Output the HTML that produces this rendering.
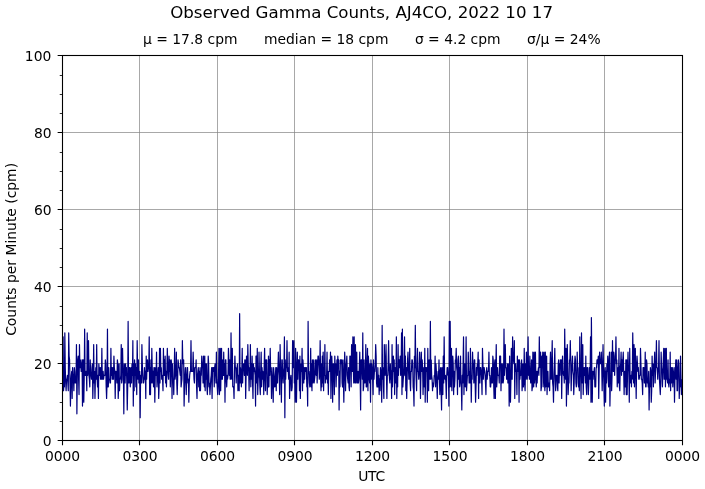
<!DOCTYPE html>
<html><head><meta charset="utf-8"><title>Observed Gamma Counts</title>
<style>html,body{margin:0;padding:0;background:#fff}svg{display:block}</style></head>
<body>
<svg width="705" height="489" viewBox="0 0 705 489">
<rect width="705" height="489" fill="#fff"/>
<path d="M139.50 55.5V440.5M217.50 55.5V440.5M294.50 55.5V440.5M372.50 55.5V440.5M449.50 55.5V440.5M527.50 55.5V440.5M604.50 55.5V440.5M62.5 363.50H682.5M62.5 286.50H682.5M62.5 209.50H682.5M62.5 132.50H682.5" stroke="#808080" stroke-width="0.69" fill="none"/>
<clipPath id="c"><rect x="62.5" y="55.5" width="620.0" height="385.0"/></clipPath>
<polyline clip-path="url(#c)" points="62.25,367.60 62.68,390.70 63.11,336.80 63.54,390.70 63.97,383.00 64.40,386.85 64.83,332.95 65.26,367.60 65.69,383.00 66.12,390.70 66.56,379.15 66.99,379.15 67.42,375.30 67.85,383.00 68.28,390.70 68.71,332.95 69.14,356.05 69.57,359.90 70.00,383.00 70.43,406.10 70.86,383.00 71.29,375.30 71.72,371.45 72.15,398.40 72.58,367.60 73.01,375.30 73.44,379.15 73.88,390.70 74.31,367.60 74.74,371.45 75.17,383.00 75.60,379.15 76.03,383.00 76.46,344.50 76.89,413.80 77.32,375.30 77.75,359.90 78.18,356.05 78.61,379.15 79.04,394.55 79.47,344.50 79.90,367.60 80.33,359.90 80.76,363.75 81.19,371.45 81.62,367.60 82.06,359.90 82.49,406.10 82.92,359.90 83.35,359.90 83.78,402.25 84.21,379.15 84.64,329.10 85.07,375.30 85.50,375.30 85.93,371.45 86.36,371.45 86.79,390.70 87.22,332.95 87.65,375.30 88.08,359.90 88.51,340.65 88.94,375.30 89.38,379.15 89.81,386.85 90.24,359.90 90.67,375.30 91.10,375.30 91.53,379.15 91.96,367.60 92.39,363.75 92.82,398.40 93.25,379.15 93.68,344.50 94.11,383.00 94.54,371.45 94.97,398.40 95.40,379.15 95.83,367.60 96.26,379.15 96.69,344.50 97.12,379.15 97.56,386.85 97.99,375.30 98.42,398.40 98.85,363.75 99.28,371.45 99.71,375.30 100.14,367.60 100.57,379.15 101.00,367.60 101.43,379.15 101.86,348.35 102.29,379.15 102.72,379.15 103.15,371.45 103.58,379.15 104.01,375.30 104.44,375.30 104.88,375.30 105.31,359.90 105.74,363.75 106.17,386.85 106.60,398.40 107.03,383.00 107.46,329.10 107.89,386.85 108.32,386.85 108.75,367.60 109.18,379.15 109.61,379.15 110.04,383.00 110.47,383.00 110.90,348.35 111.33,375.30 111.76,367.60 112.19,379.15 112.62,367.60 113.06,379.15 113.49,379.15 113.92,356.05 114.35,367.60 114.78,371.45 115.21,398.40 115.64,371.45 116.07,371.45 116.50,375.30 116.93,383.00 117.36,359.90 117.79,363.75 118.22,398.40 118.65,386.85 119.08,363.75 119.51,390.70 119.94,379.15 120.38,379.15 120.81,375.30 121.24,344.50 121.67,383.00 122.10,379.15 122.53,348.35 122.96,367.60 123.39,371.45 123.82,413.80 124.25,363.75 124.68,375.30 125.11,383.00 125.54,363.75 125.97,375.30 126.40,367.60 126.83,383.00 127.26,409.95 127.69,386.85 128.12,321.40 128.56,383.00 128.99,383.00 129.42,367.60 129.85,367.60 130.28,386.85 130.71,375.30 131.14,367.60 131.57,383.00 132.00,363.75 132.43,375.30 132.86,340.65 133.29,406.10 133.72,363.75 134.15,390.70 134.58,359.90 135.01,375.30 135.44,363.75 135.88,386.85 136.31,367.60 136.74,394.55 137.17,340.65 137.60,367.60 138.03,379.15 138.46,359.90 138.89,383.00 139.32,383.00 139.75,371.45 140.18,417.65 140.61,375.30 141.04,379.15 141.47,383.00 141.90,344.50 142.33,363.75 142.76,375.30 143.19,383.00 143.62,383.00 144.06,379.15 144.49,367.60 144.92,379.15 145.35,371.45 145.78,398.40 146.21,356.05 146.64,379.15 147.07,363.75 147.50,359.90 147.93,371.45 148.36,367.60 148.79,367.60 149.22,336.80 149.65,394.55 150.08,367.60 150.51,394.55 150.94,359.90 151.38,383.00 151.81,348.35 152.24,367.60 152.67,383.00 153.10,371.45 153.53,386.85 153.96,367.60 154.39,367.60 154.82,402.25 155.25,375.30 155.68,367.60 156.11,375.30 156.54,352.20 156.97,386.85 157.40,379.15 157.83,375.30 158.26,367.60 158.69,398.40 159.12,386.85 159.56,348.35 159.99,383.00 160.42,348.35 160.85,371.45 161.28,367.60 161.71,379.15 162.14,375.30 162.57,379.15 163.00,390.70 163.43,348.35 163.86,375.30 164.29,359.90 164.72,375.30 165.15,356.05 165.58,383.00 166.01,371.45 166.44,386.85 166.88,371.45 167.31,348.35 167.74,363.75 168.17,375.30 168.60,379.15 169.03,356.05 169.46,371.45 169.89,359.90 170.32,386.85 170.75,367.60 171.18,359.90 171.61,363.75 172.04,398.40 172.47,363.75 172.90,379.15 173.33,379.15 173.76,394.55 174.19,375.30 174.62,348.35 175.06,379.15 175.49,375.30 175.92,371.45 176.35,352.20 176.78,383.00 177.21,394.55 177.64,379.15 178.07,359.90 178.50,363.75 178.93,367.60 179.36,367.60 179.79,371.45 180.22,375.30 180.65,359.90 181.08,386.85 181.51,383.00 181.94,379.15 182.38,340.65 182.81,363.75 183.24,363.75 183.67,359.90 184.10,406.10 184.53,386.85 184.96,375.30 185.39,367.60 185.82,379.15 186.25,394.55 186.68,379.15 187.11,367.60 187.54,367.60 187.97,383.00 188.40,379.15 188.83,402.25 189.26,383.00 189.69,375.30 190.12,371.45 190.56,371.45 190.99,340.65 191.42,371.45 191.85,371.45 192.28,371.45 192.71,371.45 193.14,352.20 193.57,367.60 194.00,379.15 194.43,383.00 194.86,367.60 195.29,367.60 195.72,367.60 196.15,359.90 196.58,386.85 197.01,398.40 197.44,375.30 197.88,371.45 198.31,367.60 198.74,386.85 199.17,371.45 199.60,390.70 200.03,367.60 200.46,390.70 200.89,375.30 201.32,375.30 201.75,356.05 202.18,363.75 202.61,363.75 203.04,383.00 203.47,356.05 203.90,375.30 204.33,386.85 204.76,356.05 205.19,390.70 205.62,363.75 206.06,379.15 206.49,363.75 206.92,386.85 207.35,394.55 207.78,383.00 208.21,356.05 208.64,363.75 209.07,386.85 209.50,383.00 209.93,394.55 210.36,386.85 210.79,379.15 211.22,375.30 211.65,367.60 212.08,398.40 212.51,367.60 212.94,371.45 213.38,367.60 213.81,367.60 214.24,386.85 214.67,367.60 215.10,363.75 215.53,371.45 215.96,383.00 216.39,352.20 216.82,379.15 217.25,386.85 217.68,394.55 218.11,386.85 218.54,375.30 218.97,348.35 219.40,394.55 219.83,386.85 220.26,348.35 220.69,390.70 221.12,367.60 221.56,348.35 221.99,379.15 222.42,379.15 222.85,359.90 223.28,375.30 223.71,352.20 224.14,375.30 224.57,363.75 225.00,402.25 225.43,359.90 225.86,359.90 226.29,379.15 226.72,386.85 227.15,375.30 227.58,379.15 228.01,375.30 228.44,348.35 228.88,359.90 229.31,375.30 229.74,359.90 230.17,379.15 230.60,379.15 231.03,332.95 231.46,375.30 231.89,379.15 232.32,348.35 232.75,386.85 233.18,386.85 233.61,386.85 234.04,398.40 234.47,371.45 234.90,356.05 235.33,367.60 235.76,367.60 236.19,383.00 236.62,371.45 237.06,367.60 237.49,363.75 237.92,390.70 238.35,375.30 238.78,386.85 239.21,390.70 239.64,313.70 240.07,383.00 240.50,367.60 240.93,375.30 241.36,386.85 241.79,371.45 242.22,348.35 242.65,383.00 243.08,367.60 243.51,363.75 243.94,363.75 244.38,375.30 244.81,359.90 245.24,359.90 245.67,398.40 246.10,375.30 246.53,356.05 246.96,363.75 247.39,375.30 247.82,344.50 248.25,363.75 248.68,371.45 249.11,390.70 249.54,367.60 249.97,379.15 250.40,344.50 250.83,386.85 251.26,363.75 251.69,379.15 252.12,356.05 252.56,383.00 252.99,398.40 253.42,363.75 253.85,371.45 254.28,367.60 254.71,371.45 255.14,375.30 255.57,406.10 256.00,356.05 256.43,356.05 256.86,383.00 257.29,348.35 257.72,394.55 258.15,379.15 258.58,375.30 259.01,352.20 259.44,371.45 259.88,386.85 260.31,394.55 260.74,367.60 261.17,352.20 261.60,386.85 262.03,367.60 262.46,379.15 262.89,371.45 263.32,375.30 263.75,394.55 264.18,367.60 264.61,348.35 265.04,375.30 265.47,390.70 265.90,359.90 266.33,363.75 266.76,359.90 267.19,394.55 267.62,383.00 268.06,386.85 268.49,356.05 268.92,386.85 269.35,359.90 269.78,375.30 270.21,348.35 270.64,371.45 271.07,371.45 271.50,398.40 271.93,367.60 272.36,375.30 272.79,386.85 273.22,402.25 273.65,367.60 274.08,375.30 274.51,386.85 274.94,386.85 275.38,375.30 275.81,367.60 276.24,390.70 276.67,367.60 277.10,383.00 277.53,383.00 277.96,367.60 278.39,352.20 278.82,367.60 279.25,375.30 279.68,394.55 280.11,344.50 280.54,367.60 280.97,371.45 281.40,402.25 281.83,359.90 282.26,359.90 282.69,375.30 283.12,383.00 283.56,371.45 283.99,367.60 284.42,336.80 284.85,417.65 285.28,359.90 285.71,379.15 286.14,363.75 286.57,367.60 287.00,340.65 287.43,371.45 287.86,367.60 288.29,371.45 288.72,379.15 289.15,352.20 289.58,398.40 290.01,379.15 290.44,379.15 290.88,375.30 291.31,390.70 291.74,390.70 292.17,386.85 292.60,340.65 293.03,367.60 293.46,359.90 293.89,340.65 294.32,383.00 294.75,379.15 295.18,402.25 295.61,348.35 296.04,367.60 296.47,402.25 296.90,375.30 297.33,352.20 297.76,379.15 298.19,359.90 298.62,359.90 299.06,363.75 299.49,390.70 299.92,356.05 300.35,398.40 300.78,375.30 301.21,363.75 301.64,371.45 302.07,348.35 302.50,390.70 302.93,359.90 303.36,367.60 303.79,383.00 304.22,367.60 304.65,379.15 305.08,367.60 305.51,371.45 305.94,367.60 306.38,367.60 306.81,386.85 307.24,383.00 307.67,406.10 308.10,321.40 308.53,371.45 308.96,371.45 309.39,383.00 309.82,386.85 310.25,375.30 310.68,348.35 311.11,386.85 311.54,363.75 311.97,390.70 312.40,359.90 312.83,383.00 313.26,375.30 313.69,359.90 314.12,383.00 314.56,379.15 314.99,375.30 315.42,359.90 315.85,371.45 316.28,375.30 316.71,359.90 317.14,383.00 317.57,367.60 318.00,356.05 318.43,356.05 318.86,363.75 319.29,379.15 319.72,371.45 320.15,340.65 320.58,375.30 321.01,390.70 321.44,363.75 321.88,386.85 322.31,356.05 322.74,383.00 323.17,352.20 323.60,390.70 324.03,367.60 324.46,375.30 324.89,344.50 325.32,383.00 325.75,375.30 326.18,379.15 326.61,375.30 327.04,352.20 327.47,383.00 327.90,371.45 328.33,394.55 328.76,371.45 329.19,371.45 329.62,359.90 330.06,371.45 330.49,352.20 330.92,398.40 331.35,367.60 331.78,356.05 332.21,367.60 332.64,402.25 333.07,363.75 333.50,363.75 333.93,375.30 334.36,394.55 334.79,356.05 335.22,367.60 335.65,363.75 336.08,386.85 336.51,371.45 336.94,359.90 337.38,375.30 337.81,356.05 338.24,363.75 338.67,359.90 339.10,409.95 339.53,371.45 339.96,386.85 340.39,359.90 340.82,359.90 341.25,363.75 341.68,359.90 342.11,383.00 342.54,386.85 342.97,359.90 343.40,379.15 343.83,402.25 344.26,375.30 344.69,352.20 345.12,363.75 345.56,390.70 345.99,367.60 346.42,363.75 346.85,356.05 347.28,375.30 347.71,379.15 348.14,383.00 348.57,367.60 349.00,386.85 349.43,390.70 349.86,356.05 350.29,356.05 350.72,359.90 351.15,386.85 351.58,344.50 352.01,356.05 352.44,371.45 352.88,336.80 353.31,367.60 353.74,383.00 354.17,336.80 354.60,379.15 355.03,383.00 355.46,344.50 355.89,383.00 356.32,367.60 356.75,352.20 357.18,383.00 357.61,383.00 358.04,371.45 358.47,383.00 358.90,379.15 359.33,367.60 359.76,352.20 360.19,379.15 360.62,409.95 361.06,359.90 361.49,359.90 361.92,367.60 362.35,379.15 362.78,332.95 363.21,390.70 363.64,386.85 364.07,359.90 364.50,383.00 364.93,383.00 365.36,379.15 365.79,344.50 366.22,386.85 366.65,386.85 367.08,363.75 367.51,348.35 367.94,390.70 368.38,356.05 368.81,363.75 369.24,379.15 369.67,383.00 370.10,363.75 370.53,402.25 370.96,359.90 371.39,379.15 371.82,363.75 372.25,367.60 372.68,379.15 373.11,394.55 373.54,359.90 373.97,379.15 374.40,371.45 374.83,371.45 375.26,363.75 375.69,344.50 376.12,356.05 376.56,383.00 376.99,386.85 377.42,386.85 377.85,367.60 378.28,386.85 378.71,375.30 379.14,394.55 379.57,379.15 380.00,390.70 380.43,367.60 380.86,371.45 381.29,383.00 381.72,402.25 382.15,325.25 382.58,379.15 383.01,367.60 383.44,386.85 383.88,398.40 384.31,344.50 384.74,363.75 385.17,375.30 385.60,363.75 386.03,344.50 386.46,375.30 386.89,398.40 387.32,375.30 387.75,375.30 388.18,363.75 388.61,340.65 389.04,367.60 389.47,379.15 389.90,383.00 390.33,363.75 390.76,379.15 391.19,371.45 391.62,398.40 392.06,344.50 392.49,386.85 392.92,371.45 393.35,356.05 393.78,371.45 394.21,359.90 394.64,394.55 395.07,367.60 395.50,383.00 395.93,383.00 396.36,336.80 396.79,398.40 397.22,375.30 397.65,386.85 398.08,344.50 398.51,375.30 398.94,359.90 399.38,359.90 399.81,367.60 400.24,356.05 400.67,375.30 401.10,371.45 401.53,332.95 401.96,394.55 402.39,329.10 402.82,386.85 403.25,379.15 403.68,375.30 404.11,363.75 404.54,336.80 404.97,375.30 405.40,356.05 405.83,390.70 406.26,367.60 406.69,398.40 407.12,379.15 407.56,359.90 407.99,352.20 408.42,367.60 408.85,379.15 409.28,379.15 409.71,348.35 410.14,383.00 410.57,390.70 411.00,371.45 411.43,371.45 411.86,359.90 412.29,359.90 412.72,363.75 413.15,386.85 413.58,390.70 414.01,406.10 414.44,356.05 414.88,367.60 415.31,325.25 415.74,367.60 416.17,379.15 416.60,390.70 417.03,363.75 417.46,348.35 417.89,371.45 418.32,371.45 418.75,379.15 419.18,371.45 419.61,352.20 420.04,363.75 420.47,398.40 420.90,375.30 421.33,352.20 421.76,371.45 422.19,359.90 422.62,367.60 423.06,394.55 423.49,375.30 423.92,367.60 424.35,386.85 424.78,348.35 425.21,402.25 425.64,367.60 426.07,371.45 426.50,367.60 426.93,371.45 427.36,402.25 427.79,348.35 428.22,383.00 428.65,390.70 429.08,359.90 429.51,363.75 429.94,379.15 430.38,321.40 430.81,379.15 431.24,359.90 431.67,375.30 432.10,379.15 432.53,390.70 432.96,383.00 433.39,386.85 433.82,383.00 434.25,375.30 434.68,375.30 435.11,356.05 435.54,386.85 435.97,363.75 436.40,371.45 436.83,383.00 437.26,398.40 437.69,379.15 438.12,371.45 438.56,379.15 438.99,359.90 439.42,379.15 439.85,394.55 440.28,371.45 440.71,367.60 441.14,390.70 441.57,409.95 442.00,367.60 442.43,386.85 442.86,394.55 443.29,356.05 443.72,383.00 444.15,336.80 444.58,375.30 445.01,379.15 445.44,375.30 445.88,383.00 446.31,398.40 446.74,375.30 447.17,367.60 447.60,367.60 448.03,375.30 448.46,375.30 448.89,406.10 449.32,321.40 449.75,386.85 450.18,321.40 450.61,371.45 451.04,386.85 451.47,348.35 451.90,390.70 452.33,367.60 452.76,356.05 453.19,363.75 453.62,394.55 454.06,371.45 454.49,386.85 454.92,379.15 455.35,359.90 455.78,359.90 456.21,348.35 456.64,367.60 457.07,371.45 457.50,394.55 457.93,359.90 458.36,356.05 458.79,379.15 459.22,367.60 459.65,386.85 460.08,367.60 460.51,356.05 460.94,383.00 461.38,386.85 461.81,409.95 462.24,375.30 462.67,383.00 463.10,363.75 463.53,336.80 463.96,394.55 464.39,367.60 464.82,363.75 465.25,386.85 465.68,383.00 466.11,336.80 466.54,390.70 466.97,383.00 467.40,375.30 467.83,375.30 468.26,352.20 468.69,367.60 469.12,383.00 469.56,371.45 469.99,383.00 470.42,348.35 470.85,367.60 471.28,402.25 471.71,375.30 472.14,379.15 472.57,352.20 473.00,367.60 473.43,363.75 473.86,383.00 474.29,359.90 474.72,359.90 475.15,383.00 475.58,402.25 476.01,386.85 476.44,367.60 476.88,375.30 477.31,363.75 477.74,363.75 478.17,352.20 478.60,398.40 479.03,359.90 479.46,379.15 479.89,383.00 480.32,367.60 480.75,367.60 481.18,371.45 481.61,379.15 482.04,394.55 482.47,348.35 482.90,363.75 483.33,379.15 483.76,367.60 484.19,367.60 484.62,371.45 485.06,375.30 485.49,383.00 485.92,394.55 486.35,371.45 486.78,367.60 487.21,379.15 487.64,371.45 488.07,371.45 488.50,371.45 488.93,352.20 489.36,375.30 489.79,375.30 490.22,386.85 490.65,386.85 491.08,379.15 491.51,367.60 491.94,383.00 492.38,383.00 492.81,356.05 493.24,359.90 493.67,383.00 494.10,398.40 494.53,363.75 494.96,359.90 495.39,398.40 495.82,367.60 496.25,344.50 496.68,386.85 497.11,379.15 497.54,367.60 497.97,375.30 498.40,375.30 498.83,375.30 499.26,383.00 499.69,356.05 500.12,356.05 500.56,356.05 500.99,390.70 501.42,363.75 501.85,383.00 502.28,379.15 502.71,363.75 503.14,383.00 503.57,379.15 504.00,329.10 504.43,375.30 504.86,363.75 505.29,344.50 505.72,367.60 506.15,367.60 506.58,379.15 507.01,379.15 507.44,363.75 507.88,383.00 508.31,371.45 508.74,363.75 509.17,406.10 509.60,356.05 510.03,386.85 510.46,402.25 510.89,379.15 511.32,348.35 511.75,379.15 512.18,379.15 512.61,336.80 513.04,359.90 513.47,359.90 513.90,363.75 514.33,340.65 514.76,398.40 515.19,363.75 515.62,363.75 516.06,371.45 516.49,371.45 516.92,394.55 517.35,356.05 517.78,371.45 518.21,363.75 518.64,359.90 519.07,402.25 519.50,359.90 519.93,379.15 520.36,371.45 520.79,375.30 521.22,363.75 521.65,359.90 522.08,390.70 522.51,383.00 522.94,363.75 523.38,386.85 523.81,379.15 524.24,348.35 524.67,383.00 525.10,390.70 525.53,363.75 525.96,379.15 526.39,352.20 526.82,371.45 527.25,379.15 527.68,359.90 528.11,336.80 528.54,375.30 528.97,371.45 529.40,379.15 529.83,356.05 530.26,371.45 530.69,383.00 531.12,379.15 531.56,359.90 531.99,390.70 532.42,386.85 532.85,352.20 533.28,383.00 533.71,386.85 534.14,352.20 534.57,383.00 535.00,367.60 535.43,352.20 535.86,379.15 536.29,386.85 536.72,371.45 537.15,383.00 537.58,371.45 538.01,371.45 538.44,367.60 538.88,375.30 539.31,336.80 539.74,367.60 540.17,356.05 540.60,352.20 541.03,390.70 541.46,386.85 541.89,356.05 542.32,367.60 542.75,352.20 543.18,386.85 543.61,367.60 544.04,352.20 544.47,383.00 544.90,390.70 545.33,352.20 545.76,386.85 546.19,367.60 546.62,356.05 547.06,394.55 547.49,379.15 547.92,371.45 548.35,386.85 548.78,383.00 549.21,383.00 549.64,390.70 550.07,363.75 550.50,352.20 550.93,379.15 551.36,379.15 551.79,359.90 552.22,340.65 552.65,383.00 553.08,386.85 553.51,402.25 553.94,375.30 554.38,363.75 554.81,348.35 555.24,379.15 555.67,390.70 556.10,375.30 556.53,379.15 556.96,375.30 557.39,386.85 557.82,390.70 558.25,363.75 558.68,359.90 559.11,383.00 559.54,363.75 559.97,375.30 560.40,359.90 560.83,363.75 561.26,359.90 561.69,398.40 562.12,367.60 562.56,356.05 562.99,371.45 563.42,375.30 563.85,371.45 564.28,383.00 564.71,329.10 565.14,363.75 565.57,379.15 566.00,348.35 566.43,406.10 566.86,375.30 567.29,344.50 567.72,367.60 568.15,394.55 568.58,383.00 569.01,383.00 569.44,359.90 569.88,359.90 570.31,340.65 570.74,363.75 571.17,390.70 571.60,371.45 572.03,363.75 572.46,356.05 572.89,371.45 573.32,375.30 573.75,394.55 574.18,383.00 574.61,363.75 575.04,356.05 575.47,359.90 575.90,383.00 576.33,386.85 576.76,383.00 577.19,352.20 577.62,367.60 578.06,367.60 578.49,386.85 578.92,379.15 579.35,390.70 579.78,336.80 580.21,371.45 580.64,375.30 581.07,398.40 581.50,332.95 581.93,375.30 582.36,383.00 582.79,344.50 583.22,394.55 583.65,375.30 584.08,367.60 584.51,375.30 584.94,367.60 585.38,383.00 585.81,356.05 586.24,386.85 586.67,394.55 587.10,367.60 587.53,367.60 587.96,379.15 588.39,394.55 588.82,383.00 589.25,367.60 589.68,379.15 590.11,375.30 590.54,336.80 590.97,402.25 591.40,317.55 591.83,371.45 592.26,402.25 592.69,371.45 593.12,379.15 593.56,371.45 593.99,371.45 594.42,367.60 594.85,386.85 595.28,386.85 595.71,386.85 596.14,367.60 596.57,367.60 597.00,359.90 597.43,359.90 597.86,363.75 598.29,356.05 598.72,398.40 599.15,371.45 599.58,352.20 600.01,363.75 600.44,363.75 600.88,363.75 601.31,352.20 601.74,367.60 602.17,390.70 602.60,371.45 603.03,344.50 603.46,363.75 603.89,386.85 604.32,406.10 604.75,371.45 605.18,367.60 605.61,402.25 606.04,371.45 606.47,383.00 606.90,363.75 607.33,371.45 607.76,356.05 608.19,379.15 608.62,386.85 609.06,359.90 609.49,352.20 609.92,406.10 610.35,383.00 610.78,383.00 611.21,352.20 611.64,390.70 612.07,375.30 612.50,340.65 612.93,367.60 613.36,371.45 613.79,352.20 614.22,356.05 614.65,375.30 615.08,359.90 615.51,359.90 615.94,336.80 616.38,363.75 616.81,359.90 617.24,386.85 617.67,375.30 618.10,367.60 618.53,383.00 618.96,348.35 619.39,386.85 619.82,390.70 620.25,367.60 620.68,363.75 621.11,352.20 621.54,375.30 621.97,359.90 622.40,371.45 622.83,359.90 623.26,352.20 623.69,371.45 624.12,394.55 624.56,371.45 624.99,383.00 625.42,386.85 625.85,359.90 626.28,394.55 626.71,359.90 627.14,394.55 627.57,371.45 628.00,352.20 628.43,367.60 628.86,371.45 629.29,402.25 629.72,348.35 630.15,379.15 630.58,383.00 631.01,375.30 631.44,386.85 631.88,371.45 632.31,379.15 632.74,332.95 633.17,359.90 633.60,383.00 634.03,344.50 634.46,386.85 634.89,367.60 635.32,348.35 635.75,371.45 636.18,398.40 636.61,367.60 637.04,356.05 637.47,363.75 637.90,371.45 638.33,367.60 638.76,379.15 639.19,379.15 639.62,375.30 640.06,375.30 640.49,348.35 640.92,363.75 641.35,379.15 641.78,379.15 642.21,383.00 642.64,394.55 643.07,367.60 643.50,367.60 643.93,367.60 644.36,383.00 644.79,383.00 645.22,352.20 645.65,386.85 646.08,386.85 646.51,359.90 646.94,363.75 647.38,383.00 647.81,379.15 648.24,386.85 648.67,371.45 649.10,409.95 649.53,383.00 649.96,386.85 650.39,367.60 650.82,371.45 651.25,402.25 651.68,390.70 652.11,356.05 652.54,375.30 652.97,363.75 653.40,386.85 653.83,367.60 654.26,363.75 654.69,352.20 655.12,383.00 655.56,371.45 655.99,363.75 656.42,340.65 656.85,367.60 657.28,367.60 657.71,379.15 658.14,371.45 658.57,367.60 659.00,340.65 659.43,379.15 659.86,386.85 660.29,394.55 660.72,383.00 661.15,352.20 661.58,367.60 662.01,371.45 662.44,386.85 662.88,371.45 663.31,359.90 663.74,348.35 664.17,379.15 664.60,379.15 665.03,348.35 665.46,386.85 665.89,363.75 666.32,348.35 666.75,379.15 667.18,379.15 667.61,383.00 668.04,359.90 668.47,383.00 668.90,386.85 669.33,379.15 669.76,383.00 670.19,352.20 670.62,390.70 671.06,367.60 671.49,383.00 671.92,367.60 672.35,367.60 672.78,386.85 673.21,379.15 673.64,371.45 674.07,367.60 674.50,402.25 674.93,379.15 675.36,371.45 675.79,359.90 676.22,379.15 676.65,359.90 677.08,390.70 677.51,390.70 677.94,367.60 678.38,359.90 678.81,363.75 679.24,398.40 679.67,383.00 680.10,386.85 680.53,356.05 680.96,375.30 681.39,394.55 681.82,379.15" fill="none" stroke="#000080" stroke-width="1.2" stroke-linejoin="round"/>
<path d="M62.50 440.5v4.86M139.50 440.5v4.86M217.50 440.5v4.86M294.50 440.5v4.86M372.50 440.5v4.86M449.50 440.5v4.86M527.50 440.5v4.86M604.50 440.5v4.86M682.50 440.5v4.86M62.5 440.50h-4.86M62.5 363.50h-4.86M62.5 286.50h-4.86M62.5 209.50h-4.86M62.5 132.50h-4.86M62.5 55.50h-4.86" stroke="#000" stroke-width="1.1" fill="none"/>
<path d="M62.5 421.50h-2.78M62.5 402.50h-2.78M62.5 383.50h-2.78M62.5 344.50h-2.78M62.5 325.50h-2.78M62.5 306.50h-2.78M62.5 267.50h-2.78M62.5 248.50h-2.78M62.5 229.50h-2.78M62.5 190.50h-2.78M62.5 171.50h-2.78M62.5 152.50h-2.78M62.5 113.50h-2.78M62.5 94.50h-2.78M62.5 75.50h-2.78" stroke="#000" stroke-width="0.83" fill="none"/>
<rect x="62.5" y="55.5" width="620.0" height="385.0" fill="none" stroke="#000" stroke-width="1.1"/>
<g font-family="'DejaVu Sans','Liberation Sans',sans-serif" fill="#000">
<g font-size="13.89px" text-anchor="middle">
<text x="62.55" y="460.6">0000</text>
<text x="140.05" y="460.6">0300</text>
<text x="217.55" y="460.6">0600</text>
<text x="295.05" y="460.6">0900</text>
<text x="372.55" y="460.6">1200</text>
<text x="450.05" y="460.6">1500</text>
<text x="527.55" y="460.6">1800</text>
<text x="605.05" y="460.6">2100</text>
<text x="682.55" y="460.6">0000</text>
</g><g font-size="13.89px" text-anchor="end">
<text x="51.6" y="445.80">0</text>
<text x="51.6" y="368.80">20</text>
<text x="51.6" y="291.80">40</text>
<text x="51.6" y="214.80">60</text>
<text x="51.6" y="137.80">80</text>
<text x="51.3" y="60.80">100</text>
</g>
<text x="371.6" y="481" font-size="13.89px" text-anchor="middle" letter-spacing="-0.25">UTC</text>
<text transform="translate(16.1,249.4) rotate(-90)" font-size="13.89px" text-anchor="middle">Counts per Minute (cpm)</text>
<text x="371.8" y="44" font-size="13.89px" text-anchor="middle" xml:space="preserve" style="white-space:pre">μ = 17.8 cpm      median = 18 cpm      σ = 4.2 cpm      σ/μ = 24%</text>
<text x="361.6" y="17.5" font-size="16.67px" text-anchor="middle">Observed Gamma Counts, AJ4CO, 2022 10 17</text>
</g></svg>
</body></html>
